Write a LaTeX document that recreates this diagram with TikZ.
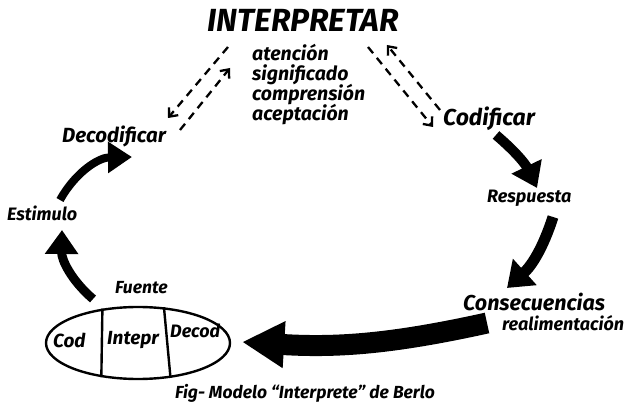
\documentclass[tikz,border=0pt]{standalone}
\usepackage{fontspec}
\setmainfont{Fira Sans}
\usetikzlibrary{arrows.meta,shapes.geometric}

\tikzset{
  lbl/.style={inner sep=0pt, font=\bfseries\itshape\fontsize{#1}{#1}\selectfont},
  fat/.style={line width=#1, line cap=butt},
  dashed2/.style={line width=2.3pt, dash pattern=on 8pt off 6pt, -{Straight Barb[length=7pt,width=12pt]}},
}

\begin{document}
\begin{tikzpicture}[x=1pt,y=1pt]
\useasboundingbox (0,0) rectangle (624,407);

\path (303,387) node[lbl=32] (interp) {INTERPRETAR};
\path (252,346) node[lbl=19.5,anchor=base west] (aten) {atención};
\path (252,326) node[lbl=19.5,anchor=base west] (signi) {significado};
\path (252,306) node[lbl=19.5,anchor=base west] (compr) {comprensión};
\path (252,286) node[lbl=19.5,anchor=base west] (acep) {aceptación};

\path (62,264) node[lbl=20.5,anchor=base west] (decodif) {Decodificar};
\path (443,281) node[lbl=23,anchor=base west] (codif) {Codificar};
\path (487,204) node[lbl=18,anchor=base west] (resp) {Respuesta};
\path (463,96) node[lbl=21.5,anchor=base west] (consec) {Consecuencias};
\path (502,76) node[lbl=18,anchor=base west] (realim) {realimentación};
\path (7,186) node[lbl=18,anchor=base west] (estim) {Estimulo};
\path (115,113) node[lbl=17.5,anchor=base west] (fuente) {Fuente};

% fuente: cod / intepr / decod
\path (138,64) node[draw,ellipse,line width=2.4pt,minimum width=184pt,minimum height=72pt] (caja) {};
\draw[line width=2.4pt] (caja.136.4) -- (caja.223.6);
\draw[line width=2.4pt] (caja.54.1) -- (caja.-47.6);
\path (53,59) node[lbl=19,anchor=base west] (cod) {Cod};
\path (107,62) node[lbl=19,anchor=base west] (intepr) {Intepr};
\path (170,69) node[lbl=18,anchor=base west] (decod) {Decod};

\path (175,9) node[lbl=17.5,anchor=base west] (fig) {Fig- Modelo ``Interprete'' de Berlo};

% flechas gruesas
\path[fat=9pt,-{Triangle[length=24pt,width=32pt]}] ([shift={(-22,-5)}]fuente.base west) edge[bend left=25] ([shift={(55,-9)}]estim.base west);
\path[fat=8pt,-{Triangle[length=24pt,width=30pt]}] ([shift={(53,21)}]estim.base west) edge[bend left=30] ([shift={(70,-14)}]decodif.base west);
\path[fat=10pt,-{Triangle[length=24pt,width=32pt]}] ([shift={(53,-9)}]codif.base west) edge[bend left=12] ([shift={(50,15)}]resp.base west);
\path[fat=11pt,-{Triangle[length=24pt,width=34pt]}] ([shift={(66,-14)}]resp.base west) edge[bend left=15] ([shift={(44,23)}]consec.base west);
\path[fat=21pt,-{Triangle[length=42pt,width=44pt]}] ([shift={(24,-12)}]consec.base west) edge[bend left=8] ([shift={(11,1)}]caja.east);

% flechas discontinuas
\path[dashed2] ([shift={(-75,-27)}]interp.center) edge ([shift={(106,25)}]decodif.base west);
\path[dashed2] ([shift={(118,13)}]decodif.base west) edge ([shift={(-73,-48)}]interp.center);
\path[dashed2] ([shift={(-3,16)}]codif.base west) edge ([shift={(84,-25)}]interp.center);
\path[dashed2] ([shift={(65,-27)}]interp.center) edge ([shift={(-10,-1)}]codif.base west);

\end{tikzpicture}
\end{document}
